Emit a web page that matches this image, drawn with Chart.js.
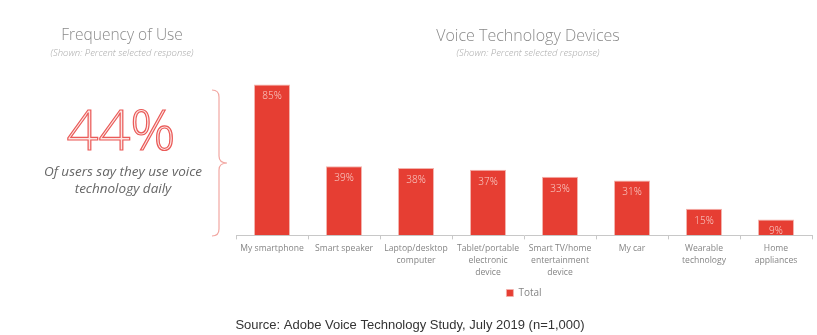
<!DOCTYPE html>
<html>
<head>
<meta charset="utf-8">
<script src="https://cdn.jsdelivr.net/npm/chart.js@4"></script>
<style>
  html, body { margin: 0; padding: 0; background: #fff; }
  #wrap { position: relative; width: 817px; height: 335px; }
</style>
</head>
<body>
<div id="wrap"><canvas id="myChart" width="817" height="335"></canvas></div>
<script>
// Datos del gráfico
const categories = [
  ['My smartphone'],
  ['Smart speaker'],
  ['Laptop/desktop', 'computer'],
  ['Tablet/portable', 'electronic', 'device'],
  ['Smart TV/home', 'entertainment', 'device'],
  ['My car'],
  ['Wearable', 'technology'],
  ['Home', 'appliances']
];
const totalValues = [85, 39, 38, 37, 33, 31, 15, 9];
const dailyUse = 44;

const RED = '#e63e33';
const FONT = '"Open Sans", Lato, sans-serif';

// Etiquetas de valor dentro de cada barra
const valueLabels = {
  id: 'valueLabels',
  afterDatasetsDraw(chart) {
    const ctx = chart.ctx;
    const meta = chart.getDatasetMeta(0);
    ctx.save();
    ctx.font = '300 10px ' + FONT;
    ctx.fillStyle = '#f9cfca';
    ctx.textAlign = 'center';
    ctx.textBaseline = 'middle';
    meta.data.forEach((bar, i) => {
      ctx.fillText(totalValues[i] + '%', bar.x, bar.y + 12);
    });
    ctx.restore();
  }
};

// Panel izquierdo, títulos y fuente
const sidePanel = {
  id: 'sidePanel',
  afterDraw(chart) {
    const ctx = chart.ctx;
    ctx.save();
    ctx.textAlign = 'center';
    ctx.textBaseline = 'middle';

    // títulos
    ctx.fillStyle = '#8a8a8a';
    ctx.font = '300 15.5px ' + FONT;
    ctx.fillText('Frequency of Use', 122, 36);
    ctx.font = '300 16px ' + FONT;
    ctx.fillText('Voice Technology Devices', 528, 36);
    ctx.fillStyle = '#aaaaaa';
    ctx.font = 'italic 300 9.5px ' + FONT;
    ctx.fillText('(Shown: Percent selected response)', 122, 53);
    ctx.fillText('(Shown: Percent selected response)', 528, 53);

    // número grande
    ctx.textBaseline = 'alphabetic';
    ctx.font = '300 56px ' + FONT;
    ctx.fillStyle = '#fce6e4';
    ctx.fillText(dailyUse + '%', 121, 150);
    ctx.lineWidth = 1.2;
    ctx.strokeStyle = '#ea5a58';
    ctx.strokeText(dailyUse + '%', 121, 150);

    ctx.textBaseline = 'middle';
    ctx.fillStyle = '#666666';
    ctx.font = 'italic 13.5px ' + FONT;
    ctx.fillText('Of users say they use voice', 123, 172);
    ctx.fillText('technology daily', 123, 189);

    // llave
    ctx.strokeStyle = '#f2a7a2';
    ctx.lineWidth = 1.2;
    ctx.beginPath();
    ctx.moveTo(212, 90);
    ctx.quadraticCurveTo(219, 90, 219, 97);
    ctx.lineTo(219, 156);
    ctx.quadraticCurveTo(219, 163, 227, 163);
    ctx.quadraticCurveTo(219, 163, 219, 170);
    ctx.lineTo(219, 229);
    ctx.quadraticCurveTo(219, 236, 212, 236);
    ctx.stroke();

    // fuente
    ctx.fillStyle = '#333333';
    ctx.font = '13px "Liberation Sans", Arial, sans-serif';
    ctx.fillText('Source: Adobe Voice Technology Study, July 2019 (n=1,000)', 410, 325);
    ctx.restore();
  }
};

const data = {
  labels: categories,
  datasets: [{
    label: 'Total',
    data: totalValues,
    backgroundColor: RED,
    borderColor: '#f3b3ad',
    borderWidth: { top: 1, left: 1, right: 1, bottom: 0 },
    barPercentage: 0.5,
    categoryPercentage: 1
  }]
};

const config = {
  type: 'bar',
  data: data,
  options: {
    responsive: false,
    animation: false,
    layout: { padding: { left: 236, right: 5, top: 58, bottom: 27 } },
    plugins: {
      tooltip: { enabled: false },
      legend: {
        position: 'bottom',
        labels: {
          boxWidth: 7,
          boxHeight: 7,
          padding: 6,
          color: '#858585',
          font: { family: FONT, size: 10 }
        }
      }
    },
    scales: {
      x: {
        border: { color: '#c8c8c8' },
        grid: { drawOnChartArea: false, tickLength: 4, color: '#c8c8c8' },
        ticks: {
          color: '#858585',
          autoSkip: false,
          maxRotation: 0,
          padding: 3,
          font: { family: FONT, size: 8.6, lineHeight: 1.42 }
        }
      },
      y: { display: false, min: 0, max: 100 }
    }
  },
  plugins: [valueLabels, sidePanel]
};

const myChart = new Chart(document.getElementById('myChart'), config);
</script>
</body>
</html>
